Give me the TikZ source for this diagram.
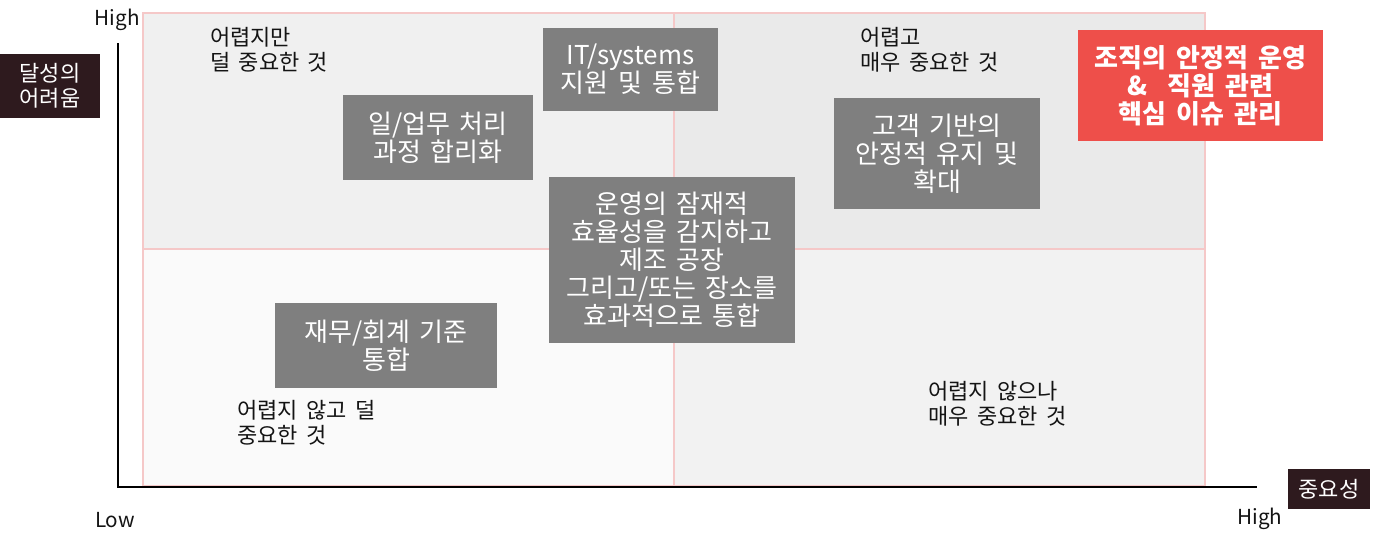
\documentclass[tikz,border=0pt]{standalone}
\usepackage{fontspec}
\setmainfont[WordSpace=1.7]{Noto Sans CJK KR}
\usetikzlibrary{positioning}
\definecolor{ink}{RGB}{20,20,20}
\definecolor{tile}{RGB}{127,127,127}
\definecolor{alert}{RGB}{238,79,74}
\definecolor{wine}{RGB}{46,26,30}
\definecolor{rim}{RGB}{245,200,200}
\definecolor{qtl}{RGB}{240,240,240}
\definecolor{qtr}{RGB}{234,234,234}
\definecolor{qbl}{RGB}{250,250,250}
\definecolor{qbr}{RGB}{242,242,242}

\begin{document}
\begin{tikzpicture}[x=0.75pt,y=-0.75pt,
    issue/.style 2 args={fill=tile,text=white,align=center,inner sep=0pt,
      minimum width=#1*0.75pt,minimum height=#2*0.75pt,
      font=\fontsize{19.5}{21}\selectfont},
    tag/.style 2 args={fill=wine,text=white,align=center,inner sep=0pt,
      minimum width=#1*0.75pt,minimum height=#2*0.75pt,
      font=\fontsize{16.5}{19}\selectfont},
    corner/.style={anchor=west,align=left,inner sep=0pt,text=ink,
      font=\fontsize{16.5}{18.75}\selectfont},
    tick/.style={inner sep=0pt,text=ink,font=\fontsize{15.5}{17}\selectfont}]
  \useasboundingbox[fill=white] (0,0) rectangle (1378,544);

  % quadrants
  \fill[qtl] (143,13) rectangle (674,249);
  \fill[qtr] (674,13) rectangle (1205,249);
  \fill[qbl] (143,249) rectangle (674,486);
  \fill[qbr] (674,249) rectangle (1205,486);
  \draw[rim,line width=1.5pt] (143,13) rectangle (1205,486)
    (674,13) -- (674,486) (143,249) -- (1205,249);

  % axes
  \coordinate (ytop) at (118,43);
  \coordinate (xend) at (1257,487);
  \draw[black,line width=1.6pt] (ytop) |- (xend);
  \node[tick,anchor=east] (yhigh) at (140,20) {High};
  \node[tick] (low) at (115,520) {Low};
  \node[tick] (xhigh) at (1260,519) {High};
  \node[tag={100}{64}] (yname) at (50,86) {달성의\\어려움};
  \node[tag={82}{40}] (xname) at (1329,489) {중요성};

  % quadrant captions
  \node[corner] (hardlow) at (210,50) {어렵지만\\덜 중요한 것};
  \node[corner] (hardhigh) at (860,50) {어렵고\\매우 중요한 것};
  \node[corner] (easylow) at (237,423) {어렵지 않고 덜\\중요한 것};
  \node[corner] (easyhigh) at (928,404) {어렵지 않으나\\매우 중요한 것};

  % issues
  \node[issue={175}{83}] (systems) at (630.5,69.5) {IT/systems\\지원 및 통합};
  \node[issue={190}{85}] (process) at (438,137.5) {일/업무 처리\\과정 합리화};
  \node[issue={206}{111}] (customer) at (937,153.5)
    {고객 기반의\\안정적 유지 및\\확대};
  \node[issue={246}{166}] (plants) at (672,260)
    {운영의 잠재적\\효율성을 감지하고\\제조 공장\\그리고/또는 장소를\\효과적으로 통합};
  \node[issue={222}{85}] (finance) at (386,345.5) {재무/회계 기준\\통합};
  \node[issue={245}{111},fill=alert,font=\fontsize{19.5}{21}\selectfont\bfseries]
    (core) at (1200.5,85.5) {조직의 안정적 운영\\\&~~직원 관련\\핵심 이슈 관리};
\end{tikzpicture}
\end{document}
